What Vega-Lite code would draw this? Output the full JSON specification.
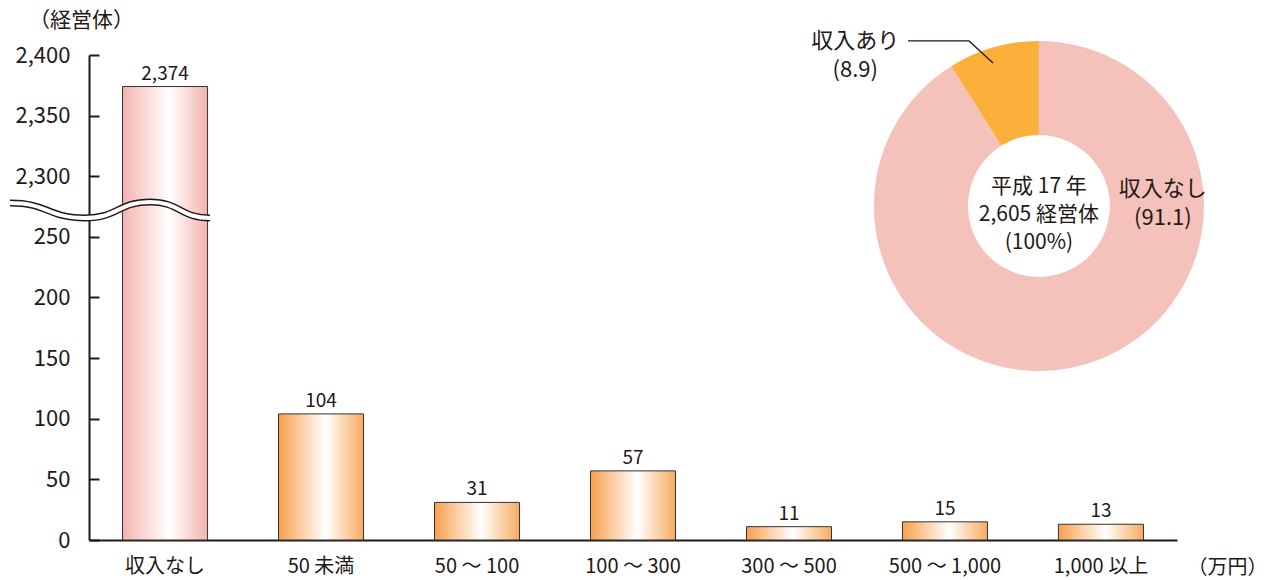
{
  "$schema": "https://vega.github.io/schema/vega-lite/v6.json",
  "autosize": {"type": "none"},
  "padding": {"left": 89, "top": 55, "right": 95, "bottom": 40},
  "width": 1088,
  "height": 485,
  "background": "white",
  "config": {
    "view": {"stroke": null},
    "font": "Noto Sans CJK JP, sans-serif",
    "text": {"color": "#231815"}
  },
  "datasets": {
    "bars": [
      {"income": "収入なし", "count": 2374, "group": "none"},
      {"income": "50 未満", "count": 104, "group": "some"},
      {"income": "50 ～ 100", "count": 31, "group": "some"},
      {"income": "100 ～ 300", "count": 57, "group": "some"},
      {"income": "300 ～ 500", "count": 11, "group": "some"},
      {"income": "500 ～ 1,000", "count": 15, "group": "some"},
      {"income": "1,000 以上", "count": 13, "group": "some"}
    ],
    "pie": [
      {"status": "収入なし", "share": 91.1, "label": ["収入なし", "(91.1)"]},
      {"status": "収入あり", "share": 8.9, "label": ["収入あり", "(8.9)"]}
    ]
  },
  "resolve": {"scale": {"theta": "independent"}, "axis": {"y": "independent"}},
  "layer": [
    {
      "data": {"name": "bars"},
      "transform": [{"filter": "datum.group === 'none'"}],
      "mark": {
        "type": "bar",
        "stroke": "#333333",
        "strokeWidth": 1,
        "color": {
          "gradient": "linear", "x1": 0, "x2": 1, "y1": 0, "y2": 0,
          "stops": [
            {"offset": 0, "color": "#F3B4AF"},
            {"offset": 0.55, "color": "#FFFFFF"},
            {"offset": 1, "color": "#F2B3AE"}
          ]
        }
      },
      "encoding": {
        "x": {
          "field": "income",
          "type": "nominal",
          "sort": ["収入なし", "50 未満", "50 ～ 100", "100 ～ 300", "300 ～ 500", "500 ～ 1,000", "1,000 以上"],
          "scale": {"paddingInner": 0.455, "paddingOuter": 0.215},
          "axis": {
            "title": "（万円）",
            "titleX": 1098,
            "titleY": 27,
            "titleAlign": "left",
            "titleAnchor": null,
            "titleBaseline": "middle",
            "titleFontSize": 20,
            "titleFontWeight": "normal",
            "titleColor": "#231815",
            "labelAngle": 0,
            "labelFontSize": 20,
            "labelColor": "#231815",
            "labelPadding": 16,
            "ticks": false,
            "domainColor": "#231815",
            "domainWidth": 2,
            "grid": false
          }
        },
        "y": {
          "field": "count",
          "type": "quantitative",
          "scale": {"domain": [0, 250, 2300, 2400], "range": [485, 181.875, 121.25, 0], "zero": false, "nice": false},
          "axis": {
            "orient": "left",
            "values": [0, 50, 100, 150, 200, 250, 2300, 2350, 2400],
            "title": "（経営体）",
            "titleAngle": 0,
            "titleX": -8,
            "titleY": -35,
            "titleAlign": "center",
            "titleBaseline": "middle",
            "titleFontSize": 21,
            "titleFontWeight": "normal",
            "titleColor": "#231815",
            "labelFontSize": 22,
            "labelColor": "#231815",
            "labelPadding": 19,
            "ticks": false,
            "domainColor": "#231815",
            "domainWidth": 2,
            "grid": false
          }
        }
      }
    },
    {
      "data": {"name": "bars"},
      "transform": [{"filter": "datum.group === 'some'"}],
      "mark": {
        "type": "bar",
        "stroke": "#333333",
        "strokeWidth": 1,
        "color": {
          "gradient": "linear", "x1": 0, "x2": 1, "y1": 0, "y2": 0,
          "stops": [
            {"offset": 0, "color": "#F8A04E"},
            {"offset": 0.55, "color": "#FFFFFF"},
            {"offset": 1, "color": "#F8AB60"}
          ]
        }
      },
      "encoding": {
        "x": {"field": "income", "type": "nominal", "sort": ["収入なし", "50 未満", "50 ～ 100", "100 ～ 300", "300 ～ 500", "500 ～ 1,000", "1,000 以上"]},
        "y": {
          "field": "count",
          "type": "quantitative",
          "axis": {
            "orient": "left",
            "offset": -10,
            "values": [0, 50, 100, 150, 200, 250, 2300, 2350, 2400],
            "title": null,
            "labels": false,
            "domain": false,
            "ticks": true,
            "tickSize": 10,
            "tickWidth": 2,
            "tickColor": "#231815",
            "grid": false
          }
        }
      }
    },
    {
      "data": {"values": [{}]},
      "mark": {"type": "point", "shape": "M-1,-0.07C-0.62,-0.07,-0.62,0.08,-0.25,0.08C0.08,0.08,0.08,-0.08,0.4,-0.08C0.7,-0.08,0.7,0.08,1,0.08", "size": 40000, "filled": false, "stroke": "#231815", "strokeWidth": 7, "opacity": 1},
      "encoding": {
        "x": {"datum": "収入なし", "bandPosition": -0.147},
        "y": {"datum": 1159, "axis": null}
      }
    },
    {
      "data": {"values": [{}]},
      "mark": {"type": "point", "shape": "M-1,-0.07C-0.62,-0.07,-0.62,0.08,-0.25,0.08C0.08,0.08,0.08,-0.08,0.4,-0.08C0.7,-0.08,0.7,0.08,1,0.08", "size": 40000, "filled": false, "stroke": "#FFFFFF", "strokeWidth": 4, "opacity": 1},
      "encoding": {
        "x": {"datum": "収入なし", "bandPosition": -0.147},
        "y": {"datum": 1159, "axis": null}
      }
    },
    {
      "data": {"name": "bars"},
      "mark": {"type": "text", "baseline": "bottom", "dy": -3, "fontSize": 19, "color": "#231815"},
      "encoding": {
        "x": {"field": "income", "type": "nominal", "sort": ["収入なし", "50 未満", "50 ～ 100", "100 ～ 300", "300 ～ 500", "500 ～ 1,000", "1,000 以上"]},
        "y": {"field": "count", "type": "quantitative", "axis": null},
        "text": {"field": "count", "type": "quantitative", "format": ","}
      }
    },
    {
      "data": {"name": "pie"},
      "mark": {"type": "arc", "outerRadius": 165, "innerRadius": 71},
      "encoding": {
        "x": {"datum": "1,000 以上", "bandPosition": -0.23},
        "y": {"datum": 1294, "axis": null},
        "theta": {"field": "share", "type": "quantitative", "stack": true},
        "order": {"field": "share", "sort": "descending"},
        "color": {
          "field": "status",
          "type": "nominal",
          "scale": {"domain": ["収入なし", "収入あり"], "range": ["#F4C1BB", "#FBB03B"]},
          "legend": null
        }
      }
    },
    {
      "data": {"values": [{}]},
      "mark": {"type": "point", "shape": "M-0.86,-0.22L0.36,-0.22L0.84,0.22", "size": 10000, "filled": false, "stroke": "#231815", "strokeWidth": 1.3, "opacity": 1},
      "encoding": {
        "x": {"datum": "500 ～ 1,000", "bandPosition": 0.571},
        "y": {"datum": 2402.5, "axis": null}
      }
    },
    {
      "data": {"name": "pie"},
      "mark": {"type": "text", "radius": 124, "fontSize": 22, "lineHeight": 29, "align": "center", "baseline": "middle", "dy": -14, "color": "#231815"},
      "encoding": {
        "x": {"datum": "1,000 以上", "bandPosition": -0.23},
        "y": {"datum": 1294, "axis": null},
        "theta": {"field": "share", "type": "quantitative", "stack": true, "scale": {"range": [-1.315, 4.968]}},
        "order": {"field": "share", "sort": "descending"},
        "text": {"condition": {"test": "datum.status === '収入なし'", "field": "label"}, "value": ""}
      }
    },
    {
      "data": {"name": "pie"},
      "mark": {"type": "text", "radius": 241, "fontSize": 22, "lineHeight": 29, "align": "center", "baseline": "middle", "dy": -14, "dx": 4, "color": "#231815"},
      "encoding": {
        "x": {"datum": "1,000 以上", "bandPosition": -0.23},
        "y": {"datum": 1294, "axis": null},
        "theta": {"field": "share", "type": "quantitative", "stack": true, "scale": {"range": [-0.613, 5.670]}},
        "order": {"field": "share", "sort": "descending"},
        "text": {"condition": {"test": "datum.status === '収入あり'", "field": "label"}, "value": ""}
      }
    },
    {
      "data": {"values": [{}]},
      "mark": {"type": "text", "text": ["平成 17 年", "2,605 経営体", "(100%)"], "fontSize": 21, "lineHeight": 28, "align": "center", "baseline": "middle", "dy": -19, "color": "#231815"},
      "encoding": {
        "x": {"datum": "1,000 以上", "bandPosition": -0.23},
        "y": {"datum": 1294, "axis": null}
      }
    }
  ]
}
